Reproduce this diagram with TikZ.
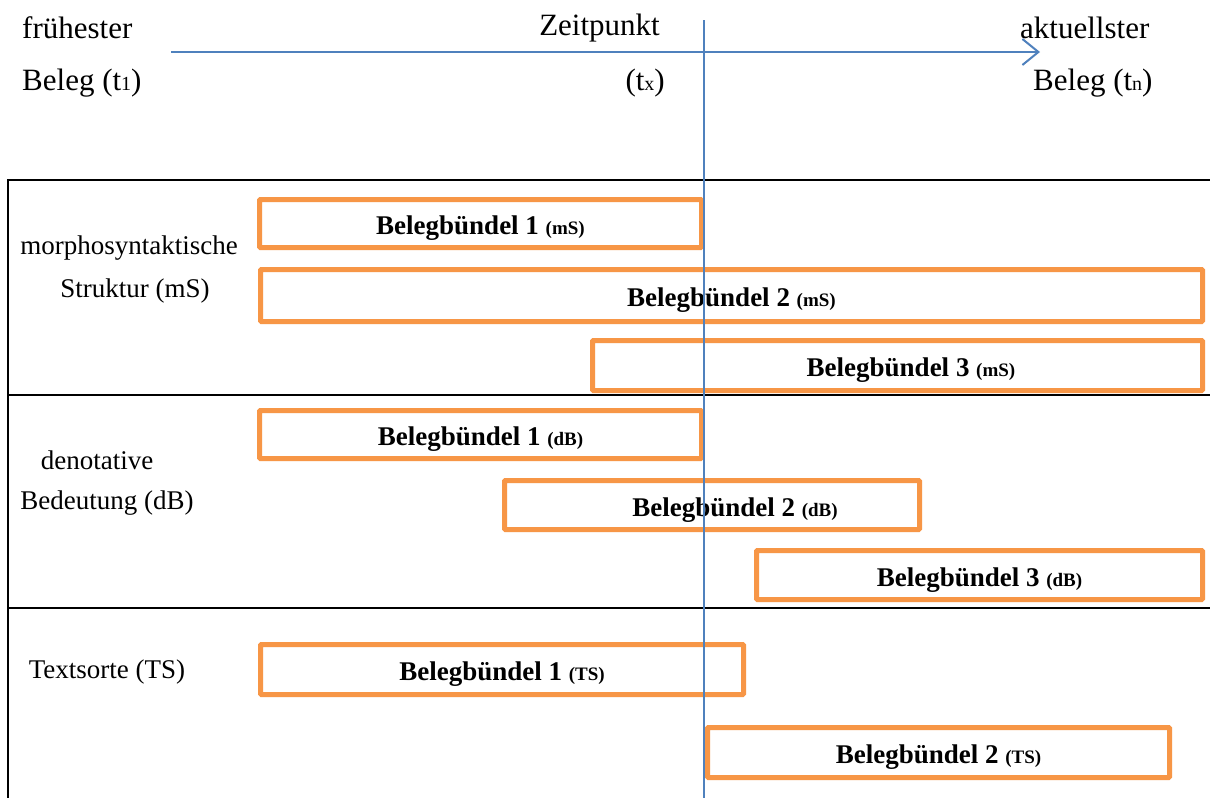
\documentclass[tikz,border=0pt]{standalone}
\usepackage{fontspec}
\setmainfont{Liberation Serif}
\usetikzlibrary{arrows.meta}
\definecolor{bgorange}{HTML}{F79646}
\definecolor{bgblue}{HTML}{4F81BD}
\newcommand{\smallpar}[1]{{\fontsize{19}{21}\selectfont #1}}
\newcommand{\subsm}[1]{{\fontsize{20}{22}\selectfont #1}}
\begin{document}
\begin{tikzpicture}[x=1pt,y=-1pt,
  bbox/.style={draw=bgorange, line width=5pt, rounded corners=1pt, inner sep=0pt,
    text height=22.5pt, text depth=0pt,
    font=\fontsize{27}{30}\selectfont\bfseries},
  toplabel/.style={inner sep=0pt, font=\fontsize{31}{36}\selectfont},
  rowlabel/.style={inner sep=0pt, font=\fontsize{27}{32}\selectfont},
  frameline/.style={line width=2.5pt, black},
  timeline/.style={line width=2.5pt, bgblue}]
\useasboundingbox (0,0) rectangle (1210,798);
\fill[white] (0,0) rectangle (1210,798);

% frame
\coordinate (fA) at (8,180);
\coordinate (fB) at (1210,180);
\coordinate (fC) at (8,395);
\coordinate (fD) at (1210,395);
\coordinate (fE) at (8,608);
\coordinate (fF) at (1210,608);
\coordinate (fG) at (8,798);
\draw[frameline] (fB) -- (fA) -- (fG);
\draw[frameline] (fC) -- (fD);
\draw[frameline] (fE) -- (fF);

% top labels
\node[toplabel, anchor=west] (fr) at (22,28) {frühester};
\node[toplabel, anchor=west] (b1) at (22,83) {Beleg (t\subsm{1})};
\node[toplabel, anchor=east] (zp) at (660,28) {Zeitpunkt};
\node[toplabel, anchor=east] (tx) at (665,83) {(t\subsm{x})};
\node[toplabel, anchor=west] (ak) at (1020,28) {aktuellster};
\node[toplabel, anchor=west] (bn) at (1033,83) {Beleg (t\subsm{n})};

% row labels
\node[rowlabel] (r1a) at (129,248) {morphosyntaktische};
\node[rowlabel] (r1b) at (135,291) {Struktur (mS)};
\node[rowlabel] (r2a) at (97,460) {denotative};
\node[rowlabel] (r2b) at (107,503) {Bedeutung (dB)};
\node[rowlabel] (r3) at (107,672) {Textsorte (TS)};

% boxes
\node[bbox, minimum width=442pt, minimum height=48pt] (m1) at (480.5,223.5) {Belegbündel 1 \smallpar{(mS)}};
\node[bbox, minimum width=942pt, minimum height=52pt] (m2) at (731.5,295.5) {Belegbündel 2 \smallpar{(mS)}};
\node[bbox, minimum width=610pt, minimum height=50pt] (m3) at (897.5,365.5) {\hspace*{27pt}Belegbündel 3 \smallpar{(mS)}};
\node[bbox, minimum width=442pt, minimum height=48pt] (d1) at (480.5,434.5) {Belegbündel 1 \smallpar{(dB)}};
\node[bbox, minimum width=415pt, minimum height=49pt] (d2) at (712,505) {\hspace*{46pt}Belegbündel 2 \smallpar{(dB)}};
\node[bbox, minimum width=446pt, minimum height=49pt] (d3) at (979.5,575) {Belegbündel 3 \smallpar{(dB)}};
\node[bbox, minimum width=483pt, minimum height=50pt] (t1) at (502,669.5) {Belegbündel 1 \smallpar{(TS)}};
\node[bbox, minimum width=462pt, minimum height=50pt] (t2) at (938.5,752.5) {Belegbündel 2 \smallpar{(TS)}};

% time axis
\coordinate (aS) at (171,52);
\coordinate (aE) at (1040,52);
\draw[timeline, line width=2pt, -{Straight Barb[length=16pt,width=26pt]}] (aS) -- (aE);
\coordinate (vT) at (704,20);
\coordinate (vB) at (704,798);
\draw[timeline] (vT) -- (vB);
\end{tikzpicture}
\end{document}
